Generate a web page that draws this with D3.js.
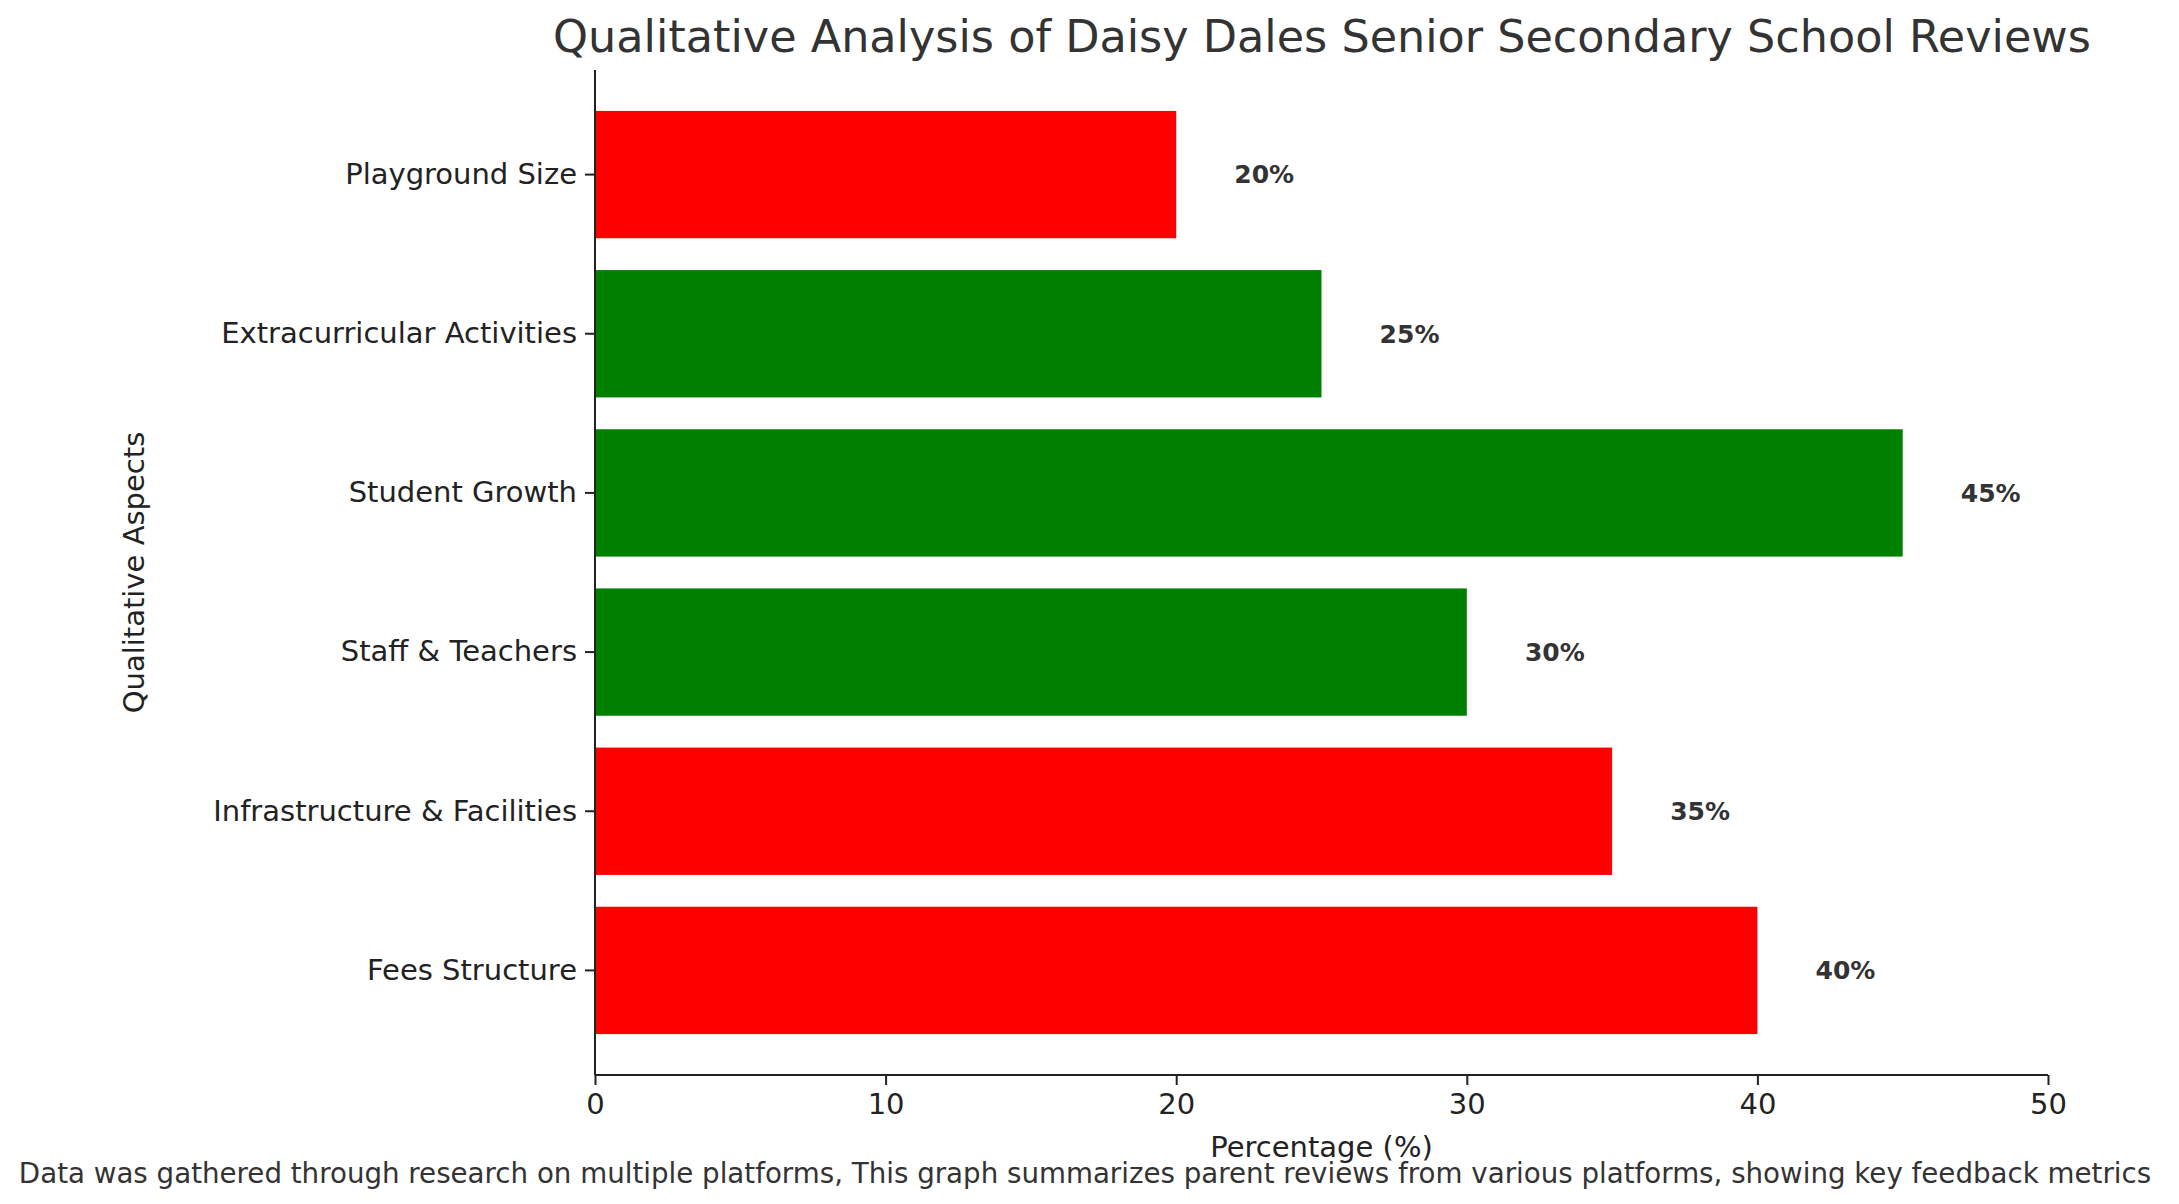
<!DOCTYPE html>
<html><head><meta charset="utf-8">
<script src="https://cdn.jsdelivr.net/npm/d3@7"></script>
<style>body{margin:0;background:#fff}text{font-family:"DejaVu Sans",sans-serif}</style>
</head><body><svg id="c" width="2179" height="1204"></svg>
<script>
var categories=['Fees Structure','Infrastructure & Facilities','Staff & Teachers','Student Growth','Extracurricular Activities','Playground Size'];
var values=[40,35,30,45,25,20];
var colors=['red','red','green','green','green','red'];
var xTicks=[0,10,20,30,40,50];

var svg=d3.select('#c');
var mLeft=595,mRight=2048,mTop=70,mBottom=1075;
var x=d3.scaleLinear().domain([0,50]).range([mLeft,mRight]);
var y=d3.scaleBand().domain(categories.slice().reverse()).range([mTop+25,mBottom-25]).paddingInner(0.2).paddingOuter(0.1);

svg.selectAll('rect.bar').data(categories).enter().append('rect')
    .attr('class','bar')
    .attr('x',x(0))
    .attr('y',function(d){return y(d);})
    .attr('width',function(d,i){return x(values[i])-x(0);})
    .attr('height',y.bandwidth())
    .attr('fill',function(d,i){return colors[i];});

svg.selectAll('text.val').data(categories).enter().append('text')
    .attr('x',function(d,i){return x(values[i]+2);})
    .attr('y',function(d){return y(d)+y.bandwidth()/2;})
    .attr('dy','0.35em')
    .style('font-size','25px').style('font-weight','bold').style('fill','#333')
    .text(function(d,i){return values[i]+'%';});

var xa=svg.append('g').attr('transform','translate(0,'+mBottom+')')
    .call(d3.axisBottom(x).tickValues(xTicks).tickSize(10).tickPadding(8));
var ya=svg.append('g').attr('transform','translate('+mLeft+',0)')
    .call(d3.axisLeft(y).tickSize(10).tickPadding(8));
[xa,ya].forEach(function(a){
    a.selectAll('text').style('font-size','29px').style('fill','#222').style('font-family','DejaVu Sans');
    a.selectAll('line,path').attr('stroke','#222').attr('stroke-width',2);
});
ya.select('.domain').attr('d','M0,'+mTop+'V'+mBottom);
xa.select('.domain').attr('d','M'+mLeft+',0H'+mRight);

svg.append('text').attr('x',1322).attr('y',52).attr('text-anchor','middle')
    .style('font-size','44.5px').style('fill','#333')
    .text('Qualitative Analysis of Daisy Dales Senior Secondary School Reviews');
svg.append('text').attr('x',x(25)).attr('y',1157).attr('text-anchor','middle')
    .style('font-size','29px').style('fill','#222').text('Percentage (%)');
svg.append('text').attr('transform','translate(144,'+((mTop+mBottom)/2)+') rotate(-90)')
    .attr('text-anchor','middle').style('font-size','29px').style('fill','#222')
    .text('Qualitative Aspects');
svg.append('text').attr('x',1085).attr('y',1183).attr('text-anchor','middle')
    .style('font-size','27.7px').style('fill','#333')
    .text('Data was gathered through research on multiple platforms, This graph summarizes parent reviews from various platforms, showing key feedback metrics');
</script></body></html>
